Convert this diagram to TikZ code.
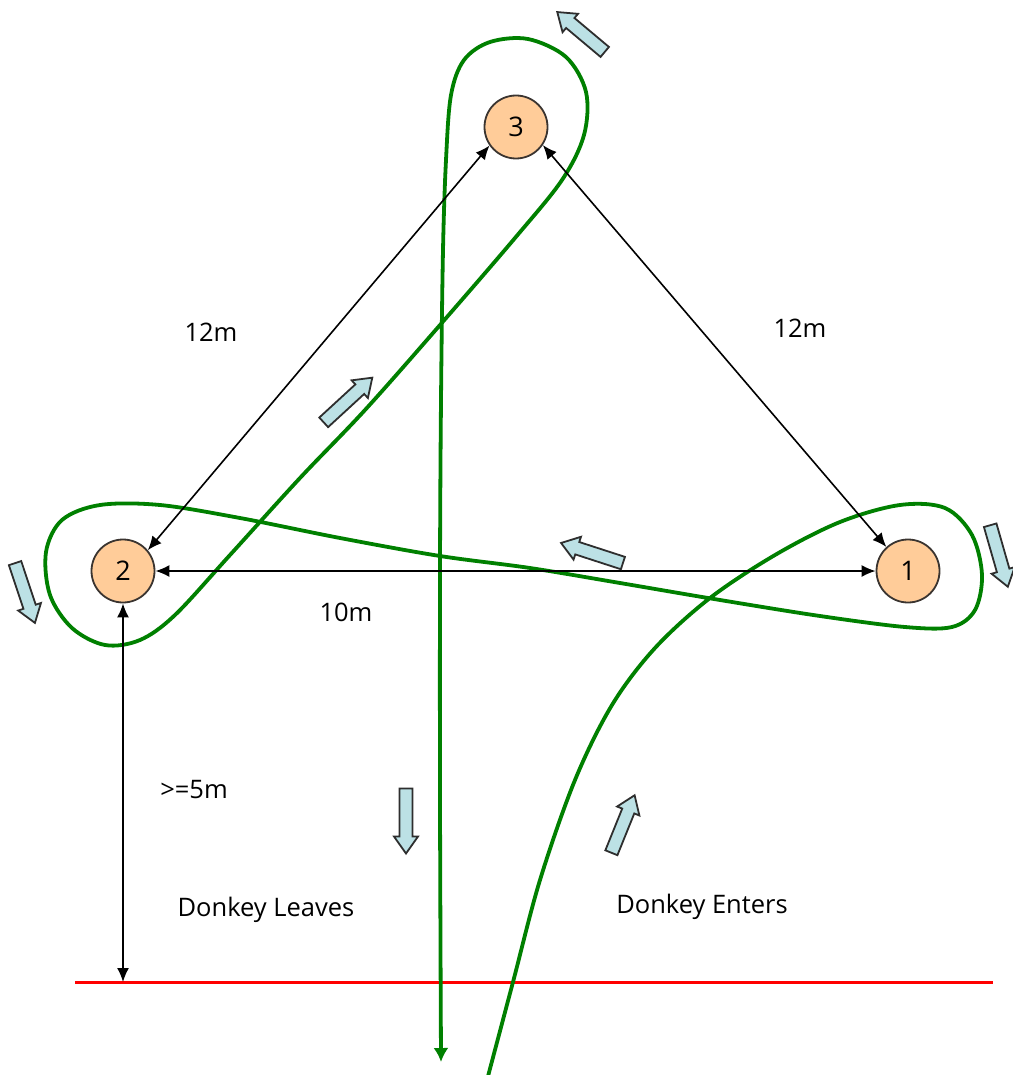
\documentclass[tikz,border=0pt]{standalone}
\usepackage{fontspec}
\setmainfont{Open Sans}
\usetikzlibrary{arrows.meta}
\definecolor{barrelfill}{HTML}{FFCC99}
\definecolor{barrelline}{HTML}{3A3430}
\definecolor{routegreen}{HTML}{008000}
\definecolor{hintfill}{HTML}{BCE1E5}
\definecolor{hintline}{HTML}{2E2E2E}
\tikzset{
  barrel/.style={circle, draw=barrelline, line width=1.8pt, fill=barrelfill,
    minimum size=63pt, inner sep=0pt, font=\fontsize{27}{27}\selectfont},
  measure/.style={line width=1.6pt, {Latex[length=14pt,width=12pt]}-{Latex[length=14pt,width=12pt]}},
  label/.style={font=\fontsize{25.5}{25.5}\selectfont, inner sep=0pt},
  route/.style={draw=routegreen, line width=3.8pt, line join=round},
  finish/.style={draw=red, line width=3pt},
  hint/.style={draw=hintline, fill=hintfill, line width=1.8pt, line join=miter},
  pics/barrow/.style={code={
    \draw[hint] (-#1/2,-6.5) -- (#1/2-17,-6.5) -- (#1/2-17,-12) -- (#1/2,0)
      -- (#1/2-17,12) -- (#1/2-17,6.5) -- (-#1/2,6.5) -- cycle;
  }}
}
\begin{document}
\begin{tikzpicture}[x=1pt,y=-1pt]
\useasboundingbox[fill=white] (0,0) rectangle (1012,1075);

% finish line
\coordinate (fl) at (75,982);
\coordinate (fr) at (993,982);
\coordinate (fd) at (123,982);
\draw[finish] (fl) -- (fr);

% donkey route: enters bottom right, loops barrels 1, 2, 3, leaves bottom left
\draw[route, -{Latex[length=14pt,width=15pt]}] plot[smooth, tension=0.55] coordinates {
  (487,1080) (513,982) (540,880) (575,780) (612,705) (655,648) (710,598)
  (775,555) (840,522) (900,505) (945,508) (972,535) (982,575) (975,610)
  (952,627) (905,627) (820,616) (720,600) (620,583) (530,568) (440,556)
  (340,538) (240,518) (160,505) (100,505) (62,520) (46,552) (50,595)
  (72,628) (105,645) (140,640) (175,615) (230,555) (300,478) (365,410)
  (440,325) (515,238) (562,180) (584,135) (586,92) (566,57) (528,39)
  (490,42) (464,60) (451,95) (446,160) (443,250) (441,400) (440,570)
  (440,800) (441,1062) };

% barrels
\node[barrel] (b3) at (516,127) {3};
\node[barrel] (b2) at (123,571) {2};
\node[barrel] (b1) at (908,571) {1};

% distances
\draw[measure] (b3.215) -- (b2.40);
\draw[measure] (b3.-34) -- (b1.132);
\draw[measure] (b2.east) -- (b1.west);
\draw[measure] (b2.south) -- (fd);

\node[label] (d32) at (211,332) {12m};
\node[label] (d31) at (800,328) {12m};
\node[label] (d21) at (346,612) {10m};
\node[label] (d2f) at (194,790) {>=5m};
\node[label] (lv) at (266,910) {Donkey Leaves};
\node[label] (en) at (702,907) {Donkey Enters};

% direction hints
\pic[rotate=140] at (581,32) {barrow=62};
\pic[rotate=42.6] at (348,400) {barrow=66};
\pic[rotate=162] at (592,553) {barrow=65};
\pic[rotate=-74] at (999,556) {barrow=64};
\pic[rotate=-71.6] at (25,593) {barrow=63};
\pic[rotate=-90] at (406,821) {barrow=65};
\pic[rotate=68] at (623,824) {barrow=62};
\end{tikzpicture}
\end{document}
